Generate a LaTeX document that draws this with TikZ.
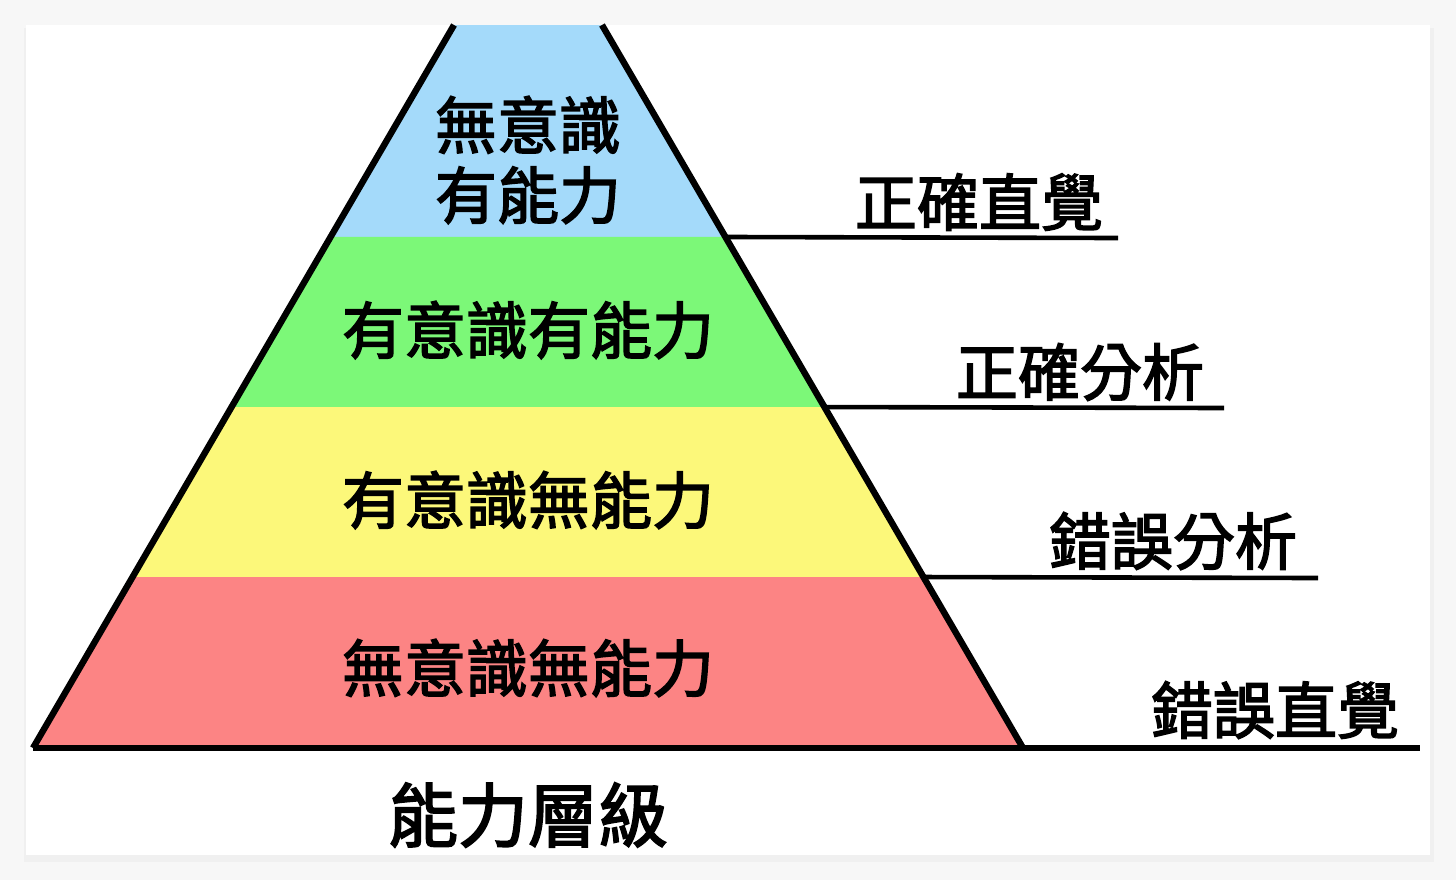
\documentclass[tikz,border=0pt]{standalone}
\usepackage{fontspec}
\usetikzlibrary{calc}
\newfontfamily\cjk{Noto Sans CJK TC}[FakeBold=2.4]
\begin{document}
\begin{tikzpicture}[x=0.5pt,y=-0.5pt,
  lbl/.style={font=\cjk\fontsize{31}{35}\selectfont, inner sep=0pt, text=black},
  edge/.style={line width=3.2pt, black},
  uline/.style={line width=2.3pt, black},
]
\useasboundingbox (0,0) rectangle (1456,880);
% page and card
\fill[black!3] (0,0) rectangle (1456,880);
\fill[black!6] (24,28) rectangle (1434,862);
\fill[white] (26,25) rectangle (1430,855);
% pyramid geometry
\coordinate (TL) at (454,25);
\coordinate (TR) at (602,25);
\coordinate (BL) at (33,748);
\coordinate (BR) at (1023,748);
\coordinate (L1) at ($(TL)!0.2932!(BL)$);
\coordinate (R1) at ($(TR)!0.2932!(BR)$);
\coordinate (L2) at ($(TL)!0.5284!(BL)$);
\coordinate (R2) at ($(TR)!0.5284!(BR)$);
\coordinate (L3) at ($(TL)!0.7635!(BL)$);
\coordinate (R3) at ($(TR)!0.7635!(BR)$);
\coordinate (E1) at (1118,238);
\coordinate (E2) at (1224,408);
\coordinate (E3) at (1318,578);
\coordinate (E4) at (1420,748);
% bands
\fill[fill={rgb,255:red,164;green,218;blue,250}] (TL)--(TR)--(R1)--(L1)--cycle;
\fill[fill={rgb,255:red,124;green,248;blue,120}] (L1)--(R1)--(R2)--(L2)--cycle;
\fill[fill={rgb,255:red,252;green,248;blue,122}] (L2)--(R2)--(R3)--(L3)--cycle;
\fill[fill={rgb,255:red,252;green,132;blue,132}] (L3)--(R3)--(BR)--(BL)--cycle;
% outline
\draw[edge] (TL)--(BL);
\draw[edge] (TR)--(BR);
\draw[edge] (BL)--(E4);
\draw[uline] (R1)--(E1);
\draw[uline] (R2)--(E2);
\draw[uline] (R3)--(E3);
% pyramid labels
\node[lbl, align=center] (t1) at (528,160) {無意識\\有能力};
\node[lbl] (t2) at (528,330) {有意識有能力};
\node[lbl] (t3) at (528,500) {有意識無能力};
\node[lbl] (t4) at (528,668) {無意識無能力};
\node[lbl, font=\cjk\fontsize{35}{40}\selectfont] (t5) at (528,815) {能力層級};
% right labels
\node[lbl] (r1) at (979,202) {正確直覺};
\node[lbl] (r2) at (1080,372) {正確分析};
\node[lbl] (r3) at (1173,541) {錯誤分析};
\node[lbl] (r4) at (1275,710) {錯誤直覺};
\end{tikzpicture}
\end{document}
